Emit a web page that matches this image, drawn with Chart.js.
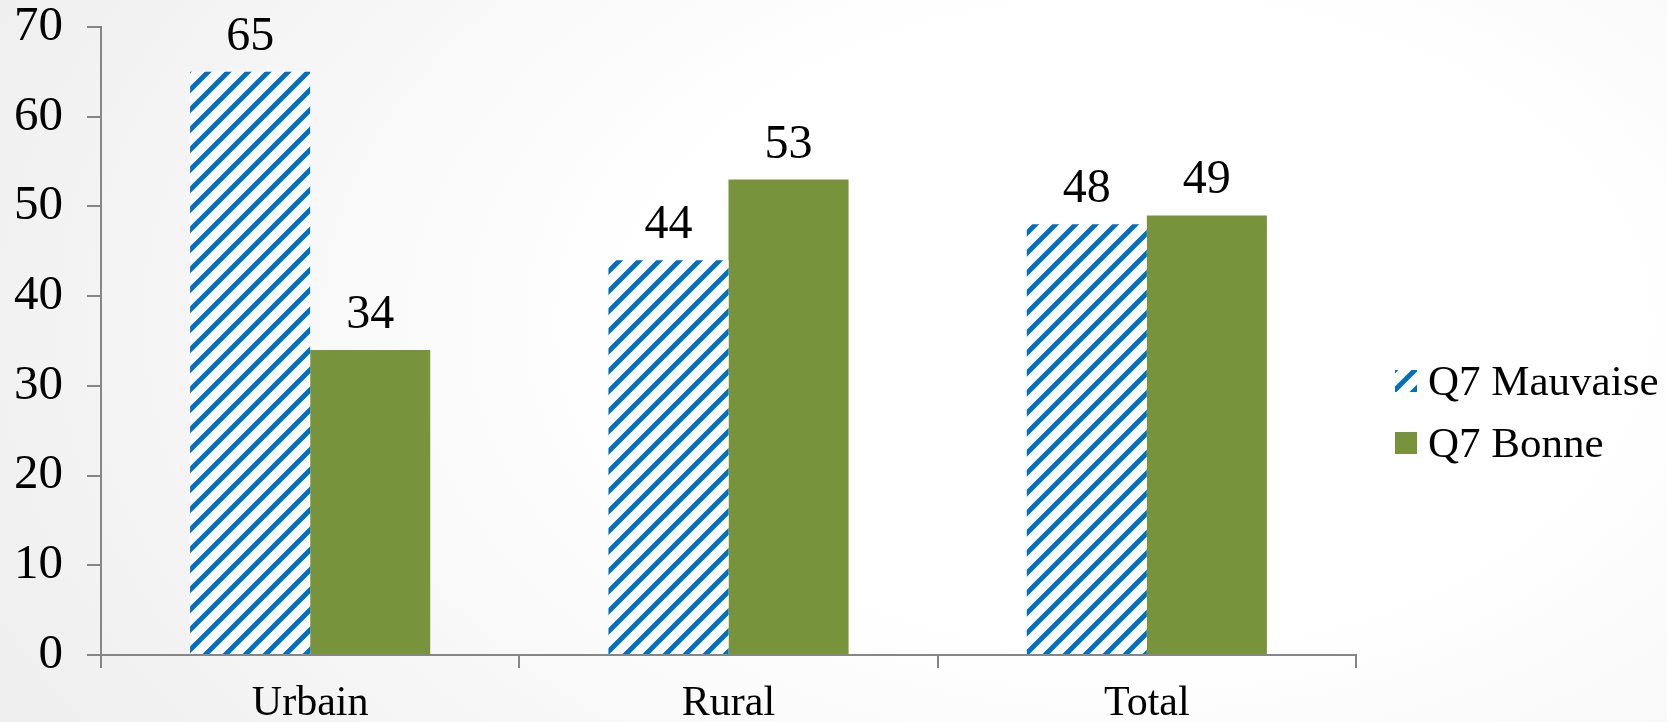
<!DOCTYPE html>
<html lang="fr">
<head>
<meta charset="utf-8">
<title>Q7 - Urbain / Rural / Total</title>
<script src="https://cdn.jsdelivr.net/npm/chart.js@4.4.1/dist/chart.umd.min.js"></script>
<style>
html, body {
  margin: 0;
  padding: 0;
  overflow: hidden;
}
body {
  width: 1667px;
  height: 722px;
  background: radial-gradient(ellipse 75% 110% at 68% 45%, #ffffff 0%, #ffffff 40%, #efefef 100%);
}
#wrap {
  position: relative;
  width: 1667px;
  height: 722px;
}
</style>
</head>
<body>
<div id="wrap"><canvas id="chart"></canvas></div>
<script>
// Chart data
const categories = ['Urbain', 'Rural', 'Total'];
const seriesNames = ['Q7 Mauvaise', 'Q7 Bonne'];
const mauvaiseValues = [65, 44, 48];
const bonneValues = [34, 53, 49];
const yMin = 0;
const yMax = 70;
const yStep = 10;

const FONT = '"Liberation Serif", "Times New Roman", serif';
const AXIS_COLOR = '#868686';
const BLUE = '#0070C0';
const GREEN = '#77933C';

const canvas = document.getElementById('chart');
const mainCtx = canvas.getContext('2d');

// blue diagonal stripes on white, like the Office "wide upward diagonal" fill
function makeHatch(ctx) {
  const size = 20;
  const tile = document.createElement('canvas');
  tile.width = size;
  tile.height = size;
  const g = tile.getContext('2d');
  g.fillStyle = '#ffffff';
  g.fillRect(0, 0, size, size);
  g.strokeStyle = BLUE;
  g.lineWidth = 5;
  g.beginPath();
  g.moveTo(-5, size + 5);
  g.lineTo(size + 5, -5);
  g.moveTo(-5, 5);
  g.lineTo(5, -5);
  g.moveTo(size - 5, size + 5);
  g.lineTo(size + 5, size - 5);
  g.stroke();
  return ctx.createPattern(tile, 'repeat');
}

const hatch = makeHatch(mainCtx);

// value above each bar
const valueLabels = {
  id: 'valueLabels',
  afterDatasetsDraw(chart) {
    const ctx = chart.ctx;
    ctx.save();
    ctx.font = '48px ' + FONT;
    ctx.fillStyle = '#000000';
    ctx.textAlign = 'center';
    ctx.textBaseline = 'alphabetic';
    chart.data.datasets.forEach((ds, i) => {
      const meta = chart.getDatasetMeta(i);
      meta.data.forEach((bar, j) => {
        ctx.fillText(String(ds.data[j]), bar.x, bar.y - 22);
      });
    });
    ctx.restore();
  }
};

// legend on the right side
const sideLegend = {
  id: 'sideLegend',
  afterDraw(chart) {
    const ctx = chart.ctx;
    const area = chart.chartArea;
    const boxX = area.right + 39;
    const box = 22;
    ctx.save();
    ctx.font = '43px ' + FONT;
    ctx.textAlign = 'left';
    ctx.textBaseline = 'alphabetic';
    chart.data.datasets.forEach((ds, i) => {
      const top = area.top + 343 + i * 62;
      ctx.save();
      ctx.translate(boxX, top);
      ctx.fillStyle = ds.backgroundColor;
      ctx.fillRect(0, 0, box, box);
      ctx.restore();
      ctx.fillStyle = '#000000';
      ctx.fillText(ds.label, boxX + box + 11, top + 25);
    });
    ctx.restore();
  }
};

new Chart(canvas, {
  type: 'bar',
  data: {
    labels: categories,
    datasets: [
      {
        label: seriesNames[0],
        data: mauvaiseValues,
        backgroundColor: hatch,
        borderWidth: 0
      },
      {
        label: seriesNames[1],
        data: bonneValues,
        backgroundColor: GREEN,
        borderWidth: 0
      }
    ]
  },
  options: {
    responsive: true,
    maintainAspectRatio: false,
    animation: false,
    layout: {
      padding: { left: 0, top: 27, right: 311, bottom: 0 }
    },
    datasets: {
      bar: {
        barPercentage: 1,
        categoryPercentage: 0.574
      }
    },
    plugins: {
      legend: { display: false },
      tooltip: { enabled: false }
    },
    scales: {
      x: {
        offset: true,
        grid: {
          display: true,
          offset: true,
          drawOnChartArea: false,
          drawTicks: true,
          tickLength: 13,
          color: AXIS_COLOR,
          lineWidth: 2
        },
        border: { color: AXIS_COLOR, width: 2 },
        ticks: {
          color: '#000000',
          padding: 11,
          font: { family: FONT, size: 42 }
        },
        afterFit(scale) {
          scale.height = 67;
          scale.paddingLeft = 0;
          scale.paddingRight = 0;
        }
      },
      y: {
        min: yMin,
        max: yMax,
        grid: {
          display: true,
          drawOnChartArea: false,
          drawTicks: true,
          tickLength: 14,
          color: AXIS_COLOR,
          lineWidth: 2
        },
        border: { color: AXIS_COLOR, width: 2 },
        ticks: {
          stepSize: yStep,
          color: '#000000',
          padding: 24,
          font: { family: FONT, size: 49 }
        },
        afterFit(scale) {
          scale.width = 101;
          scale.paddingTop = 0;
          scale.paddingBottom = 0;
        }
      }
    }
  },
  plugins: [valueLabels, sideLegend]
});
</script>
</body>
</html>
